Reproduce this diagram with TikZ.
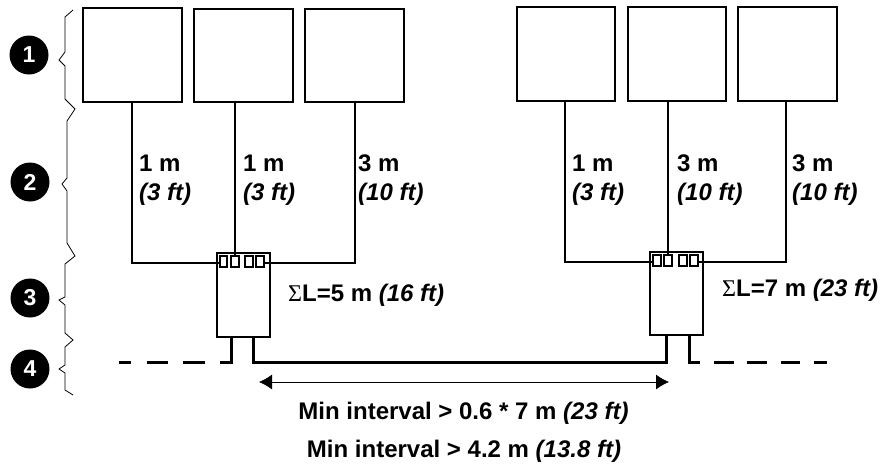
\documentclass[tikz,border=0pt]{standalone}
\usepackage{fontspec}
\usetikzlibrary{arrows.meta}
\setmainfont{Liberation Sans}
\newfontfamily\sigmafont{Liberation Serif}
\begin{document}
\begin{tikzpicture}
		[x=1pt,y=-1pt,
		BoxNode/.style={rectangle,draw,line width=2.2pt,inner sep=0pt,anchor=north west},
		PortNode/.style={rectangle,draw,fill=white,line width=1.8pt,inner sep=0pt,minimum width=7.5pt,minimum height=10.5pt},
		BadgeNode/.style={circle,fill=black,text=white,inner sep=0pt,minimum size=39pt,font=\fontsize{23}{25}\selectfont\bfseries},
		LabelNode/.style={anchor=base west,inner sep=0pt,font=\fontsize{24}{26}\selectfont\bfseries},
		Wire/.style={line width=2pt},
		Leg/.style={line width=3pt}]
		\useasboundingbox (0,0) rectangle (887,464);

		% badges
		\node[BadgeNode] (n_1) at (29,55){1};
		\node[BadgeNode] (n_2) at (30,182){2};
		\node[BadgeNode] (n_3) at (30,298){3};
		\node[BadgeNode] (n_4) at (30,369){4};

		% braces
		\draw[line width=0.8pt] (73,10)--(65,17)--(65,52)--(59,60)--(65,66)--(65,99)--(75,109)--(67,121)--(67,178)--(62,184)--(67,191)--(67,243)--(75,256)--(65,264)--(65,297)--(59,300)--(65,305)--(65,333)--(73,340)--(65,347)--(65,365)--(59,369)--(65,373)--(65,390)--(73,395);

		% left boxes
		\node[BoxNode,minimum width=99pt,minimum height=94pt] (a_1) at (82,7){};
		\node[BoxNode,minimum width=99pt,minimum height=93pt] (a_2) at (193,8){};
		\node[BoxNode,minimum width=99pt,minimum height=93pt] (a_3) at (304,8){};

		% right boxes
		\node[BoxNode,minimum width=98pt,minimum height=94pt] (b_1) at (516,6){};
		\node[BoxNode,minimum width=98pt,minimum height=94pt] (b_2) at (627,6){};
		\node[BoxNode,minimum width=99pt,minimum height=94pt] (b_3) at (737,6){};

		% devices
		\node[BoxNode,minimum width=53pt,minimum height=84pt] (d_1) at (216,252){};
		\node[BoxNode,minimum width=53pt,minimum height=83pt] (d_2) at (649,251){};

		% ports
		\foreach \n/\x in {1/223.5,2/235,3/249,4/260}
		\node[PortNode] (p_\n) at (\x,261.5){};
		\foreach \n/\x in {1/657,2/668,3/683,4/694}
		\node[PortNode] (q_\n) at (\x,260.5){};

		% wires on the left
		\draw[Wire] (132,101)--(132,263)--(p_1.west |- 0,263);
		\draw[Wire] (235,101)--(p_2.north);
		\draw[Wire] (355,101)--(355,263)--(p_4.east |- 0,263);

		% wires on the right
		\draw[Wire] (565,100)--(565,262)--(q_1.west |- 0,262);
		\draw[Wire] (668,100)--(q_2.north);
		\draw[Wire] (786,100)--(786,262)--(q_4.east |- 0,262);

		% legs and bus
		\draw[Leg] (231,336)--(231,362.5)--(220,362.5);
		\draw[Leg] (253,336)--(253,362.5)--(666,362.5)--(666,334);
		\draw[Leg] (689,334)--(689,362.5)--(700,362.5);
		\foreach \a/\b in {119/131,147/168,183/205}
		\draw[Leg] (\a,362.5)--(\b,362.5);
		\foreach \a/\b in {714/734,747/767,781/800,814/827}
		\draw[Leg] (\a,362.5)--(\b,362.5);

		% interval
		\coordinate (i_1) at (259,382);
		\coordinate (i_2) at (669,382);
		\draw[line width=0.8pt,{Latex[length=13pt,width=15pt]}-{Latex[length=13pt,width=15pt]}] (i_1)--(i_2);

		% lengths
		\foreach \n/\x/\a/\b in {1/139/1/3,2/243/1/3,3/358/3/10,4/572/1/3,5/677/3/10,6/792/3/10}
		{\node[LabelNode] (m_\n) at (\x,171){\a\ m};
		\node[LabelNode] (f_\n) at (\x,200){\itshape(\b\ ft)};}

		% totals
		\node[LabelNode] (s_1) at (288,301){{\sigmafont\mdseries\char"03A3}L=5 m \textit{(16 ft)}};
		\node[LabelNode] (s_2) at (722,296){{\sigmafont\mdseries\char"03A3}L=7 m \textit{(23 ft)}};

		% interval text
		\node[LabelNode,anchor=base] (t_1) at (463.5,419){Min interval > 0.6 * 7 m \textit{(23 ft)}};
		\node[LabelNode,anchor=base] (t_2) at (464,457){Min interval > 4.2 m \textit{(13.8 ft)}};
	\end{tikzpicture}
\end{document}
